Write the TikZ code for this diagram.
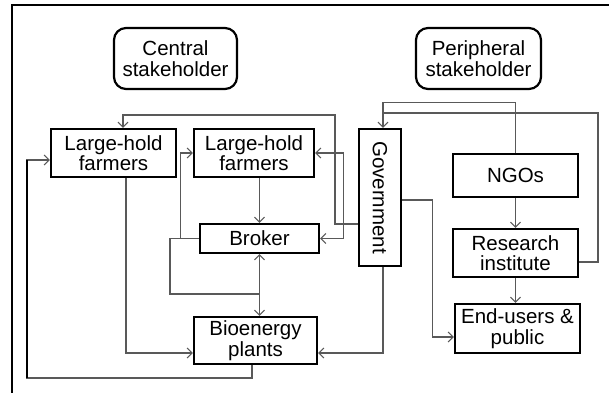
\documentclass[tikz,border=0pt]{standalone}
\usepackage{fontspec}
\setmainfont{Liberation Sans}
\usetikzlibrary{positioning, calc, arrows.meta}

\begin{document}
\begin{tikzpicture}
		[x=1pt, y=-1pt, >={Straight Barb[length=5pt, width=10pt]},
		box/.style={draw, line width=2.2pt, align=center, inner sep=1pt, font=\fontsize{20.5}{20.5}\selectfont},
		stake/.style={box, rounded corners=12pt},
		plain/.style={draw=black!65, line width=1.1pt},
		link/.style={plain, ->}]
		\useasboundingbox (0,0) rectangle (609,393);
		\draw[line width=2pt] (609,5) -- (12,5) -- (12,393);
		
		\node[stake, minimum width=123pt, minimum height=61pt] (cen) at (175.5,58.5) {Central\\stakeholder};
		\node[stake, minimum width=125pt, minimum height=61pt] (per) at (478.5,58.5) {Peripheral\\stakeholder};
		\node[box, minimum width=125pt, minimum height=48pt] (lhfa) at (113.5,153) {Large-hold\\farmers};
		\node[box, minimum width=120pt, minimum height=48pt] (lhfb) at (254,153) {Large-hold\\farmers};
		\node[box, minimum width=42pt, minimum height=137pt] (gov) at (380,197.5) {\rotatebox{-90}{Government}};
		\node[box, minimum width=119pt, minimum height=29pt] (brk) at (259.5,238.5) {Broker};
		\node[box, minimum width=123pt, minimum height=47pt] (bio) at (255.5,340.5) {Bioenergy\\plants};
		\node[box, minimum width=125pt, minimum height=43pt] (ngo) at (515.5,175.5) {NGOs};
		\node[box, minimum width=125pt, minimum height=48pt] (res) at (515.5,253) {Research\\institute};
		\node[box, minimum width=125pt, minimum height=49pt] (end) at (517.5,328.5) {End-users \&\\public};
		
		\coordinate (loop) at (27,378);
		\coordinate (lin) at ([yshift=-7pt]lhfa.west);
		\coordinate (topbend) at (335,115);
		\coordinate (kink) at (170,294);
		\coordinate (ring) at (598,113);
		\coordinate (gin) at ([xshift=3pt]gov.north);
		
		\draw[link] ([xshift=12.5pt]lhfa.south) |- ([yshift=-12.5pt]bio.west);
		\draw[link] ([xshift=-3.5pt]bio.south) |- (loop) |- (lin);
		\draw[line width=2pt] (loop) -- (loop |- lin);
		\draw[link] (brk.north |- lhfb.south) -- (brk.north);
		\draw[link, <->] (brk.south) -- (brk.south |- bio.north);
		\draw[plain] (brk.west) -| (kink) -- (kink -| brk.south);
		\draw[link] ([xshift=-18pt]brk.west) |- (lhfb.west);
		\draw[link] ([yshift=-26.5pt]gov.west) -| (topbend) -| ([xshift=9.5pt]lhfa.north);
		\draw[link] ([xshift=-14pt, yshift=-26.5pt]gov.west) |- (lhfb.east);
		\draw[link] ([xshift=-14pt, yshift=-26.5pt]gov.west) |- (brk.east);
		\draw[link] (ngo.north) |- ([yshift=25pt]gin) -- (gin);
		\draw[plain] ([yshift=-9pt]res.east) -| (ring) -- (ring -| gin);
		\draw[link] ([yshift=-2.5pt]gov.east) -| ([xshift=-21pt, yshift=-8.5pt]end.west) -- ([yshift=-8.5pt]end.west);
		\draw[link] ([xshift=3pt]gov.south) |- ([yshift=-12.5pt]bio.east);
		\draw[link] (ngo) -- (res);
		\draw[link] (res.south) -- (res.south |- end.north);
	\end{tikzpicture}
\end{document}
